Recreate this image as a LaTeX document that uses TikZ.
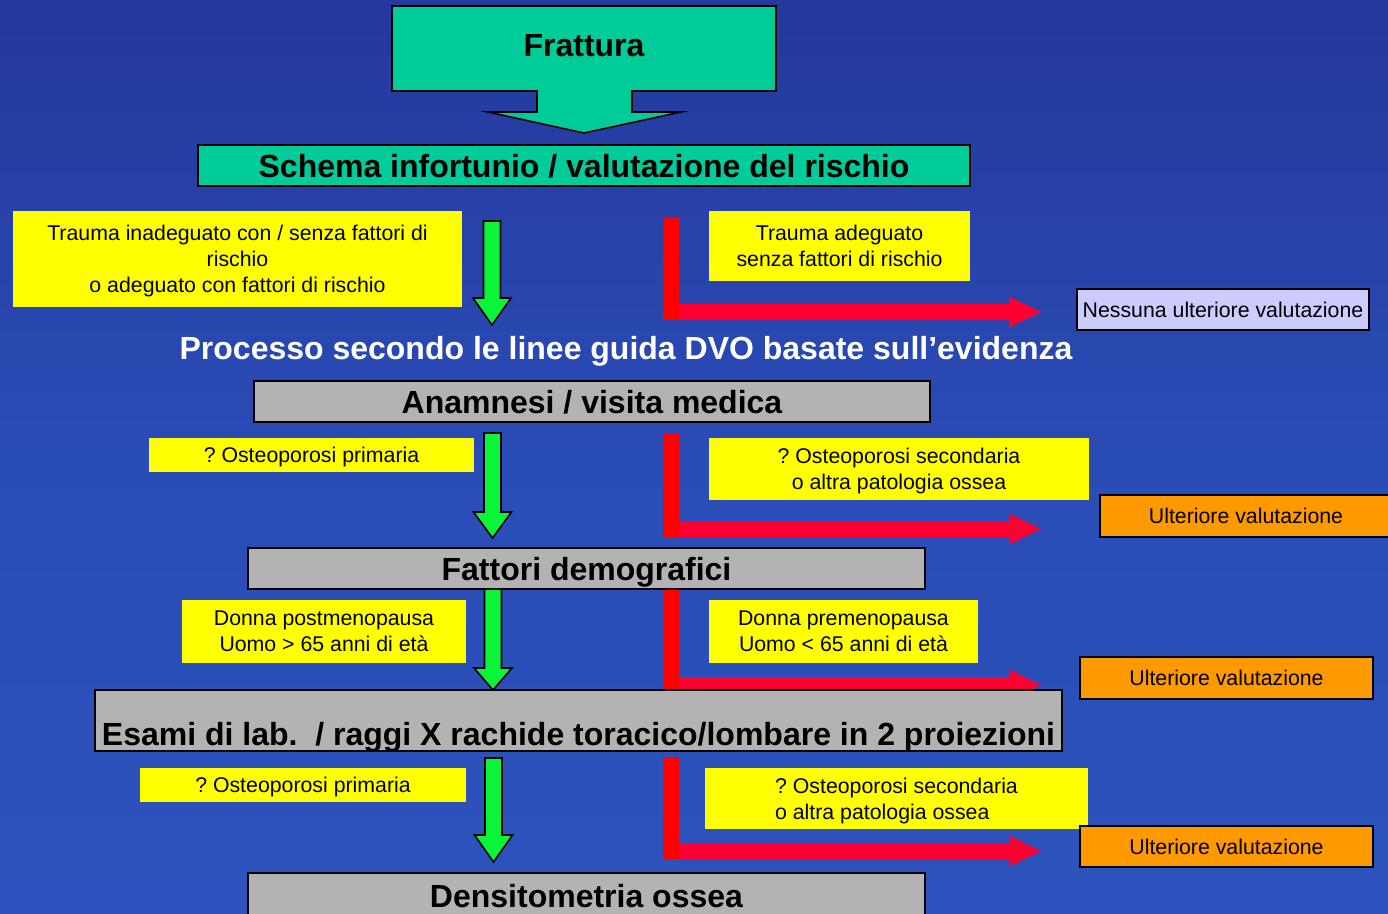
\documentclass[tikz,border=0pt]{standalone}
\usepackage{fontspec}
\setmainfont{Liberation Sans}
\frenchspacing
\definecolor{bgtop}{RGB}{30,36,132}
\definecolor{bgmid}{RGB}{42,76,182}
\definecolor{bgbot}{RGB}{46,90,196}
\definecolor{tealc}{RGB}{0,204,153}
\definecolor{greyc}{RGB}{179,179,179}
\definecolor{greenc}{RGB}{10,245,58}
\definecolor{notec}{RGB}{255,255,0}
\definecolor{redv}{RGB}{255,0,0}
\definecolor{redh}{RGB}{255,0,51}
\definecolor{orangec}{RGB}{255,153,0}
\definecolor{lilac}{RGB}{204,204,255}
\pgfdeclareverticalshading{bgshade}{100bp}{color(0bp)=(bgbot); color(50bp)=(bgmid); color(100bp)=(bgtop)}
\newcommand\hdfont{\fontsize{32}{38}\selectfont\bfseries}
\newcommand\txfont{\fontsize{21.3}{26}\selectfont}
% green block arrow: centre x, top y, head base y, tip y
\newcommand\greenarrow[4]{%
  \draw[garrow] (#1-8.5,#2) -- (#1+8.5,#2) -- (#1+8.5,#3) -- (#1+19,#3) -- (#1,#4)
    -- (#1-19,#3) -- (#1-8.5,#3) -- cycle;}
% red L-shaped arrow: top y of the vertical bar, centre y of the horizontal bar
\newcommand\redarrow[2]{%
  \fill[redh] (679,#2-8) -- (1009,#2-8) -- (1009,#2-15.5) -- (1041,#2)
    -- (1009,#2+15.5) -- (1009,#2+8) -- (679,#2+8) -- cycle;
  \fill[redv] (663,#1) rectangle (679,#2+8);}
\begin{document}
\begin{tikzpicture}[x=1pt,y=-1pt,
  box/.style={inner sep=0pt, align=center, text=black, text depth=0pt},
  tealbox/.style={box, fill=tealc, draw=black, line width=1.6pt, font=\hdfont},
  greybox/.style={box, fill=greyc, draw=black, line width=1.6pt, font=\hdfont},
  note/.style={box, fill=notec, font=\txfont},
  outcome/.style={box, draw=black, line width=1.6pt, font=\txfont},
  garrow/.style={fill=greenc, draw=black, line width=1.6pt, line join=miter},
]
\clip (0,0) rectangle (1388,913);
\shade[shading=bgshade] (0,0) rectangle (1388,913);

% start: fracture block arrow
\draw[fill=tealc, line width=1.6pt, line join=miter]
  (392,6) -- (776,6) -- (776,91) -- (632,91) -- (632,112) -- (681,112) -- (584,133)
  -- (488,112) -- (537,112) -- (537,91) -- (392,91) -- cycle;
\node[box, font=\hdfont] (frattura) at (584,45) {Frattura};

\node[tealbox, minimum width=772, minimum height=41] (schema) at (584,165.5)
  {Schema infortunio / valutazione del rischio};

% level 1
\node[note, minimum width=449, minimum height=96] (n1l) at (237.5,259)
  {Trauma inadeguato con / senza fattori di\\rischio\\o adeguato con fattori di rischio};
\node[note, minimum width=261, minimum height=70] (n1r) at (839.5,246)
  {Trauma adeguato\\senza fattori di rischio};
\greenarrow{492}{221}{298}{325}
\redarrow{218}{312}
\node[outcome, fill=lilac, minimum width=292, minimum height=41] (nessuna) at (1223,309.5)
  {Nessuna ulteriore valutazione};

\node[box, text=white, font=\hdfont] (processo) at (626,348)
  {Processo secondo le linee guida DVO basate sull’evidenza};

% level 2
\node[greybox, minimum width=676, minimum height=41] (anamnesi) at (592,401.5)
  {Anamnesi / visita medica};
\node[note, minimum width=325, minimum height=34] (n2l) at (311.5,455)
  {? Osteoporosi primaria};
\node[note, minimum width=380, minimum height=62] (n2r) at (899,469)
  {? Osteoporosi secondaria\\o altra patologia ossea};
\greenarrow{492.5}{433}{512}{538}
\redarrow{434}{529}
\node[outcome, fill=orangec, minimum width=292, minimum height=42] (ult1) at (1246,516)
  {Ulteriore valutazione};

% level 3
\node[greybox, minimum width=677, minimum height=41] (fattori) at (586.5,568.5)
  {Fattori demografici};
\node[note, minimum width=284, minimum height=63] (n3l) at (324,631.5)
  {Donna postmenopausa\\Uomo > 65 anni di età};
\node[note, minimum width=269, minimum height=63] (n3r) at (843.5,631.5)
  {Donna premenopausa\\Uomo < 65 anni di età};
\redarrow{590}{685}
\node[outcome, fill=orangec, minimum width=293, minimum height=42] (ult2) at (1226.5,678)
  {Ulteriore valutazione};

% level 4
\node[greybox, minimum width=967, minimum height=61] (esami) at (578.5,720.5) {};
\node[box, font=\hdfont, anchor=base] (esamitxt) at (578.5,745)
  {Esami di lab.\ \ / raggi X rachide toracico/lombare in 2 proiezioni};
\greenarrow{493}{589}{668}{690}
\node[note, minimum width=326, minimum height=34] (n4l) at (303,785)
  {? Osteoporosi primaria};
\node[note, minimum width=383, minimum height=61, align=left] (n4r) at (896.5,798.5)
  {? Osteoporosi secondaria\\o altra patologia ossea};
\greenarrow{493.5}{758}{835}{862}
\redarrow{757}{851}
\node[outcome, fill=orangec, minimum width=293, minimum height=41] (ult3) at (1226.5,846.5)
  {Ulteriore valutazione};

% end
\node[greybox, minimum width=677, minimum height=46] (densito) at (586.5,896)
  {Densitometria ossea};
\end{tikzpicture}
\end{document}
